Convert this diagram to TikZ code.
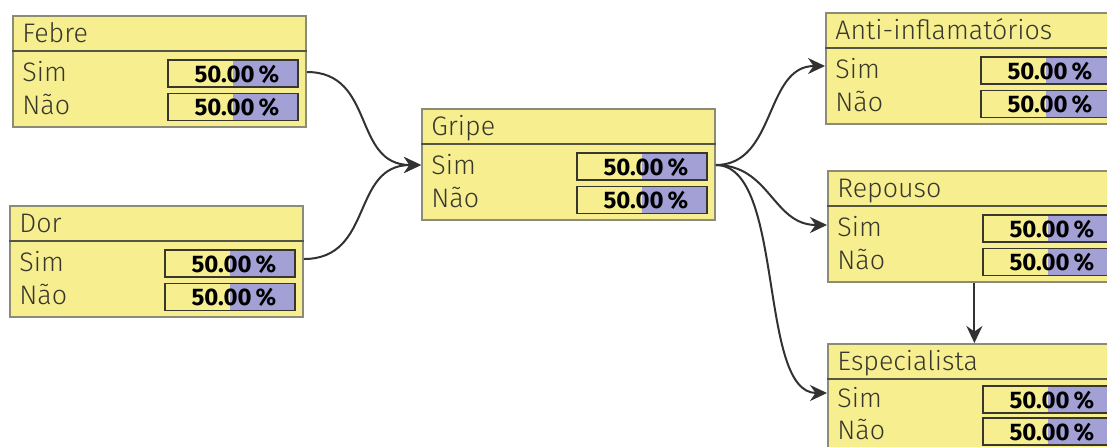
\documentclass[tikz,border=0pt]{standalone}
\usepackage{fontspec}
\setmainfont{Fira Sans}[UprightFont=* Light, BoldFont=* Bold]
\usetikzlibrary{arrows.meta}
\definecolor{boxfill}{RGB}{247,239,143}
\definecolor{barfill}{RGB}{163,160,214}
\definecolor{boxline}{RGB}{140,140,118}
\definecolor{hdrcol}{RGB}{85,85,70}
\definecolor{barline}{RGB}{55,55,45}
\definecolor{txtcol}{RGB}{55,55,45}
\definecolor{arrcol}{RGB}{50,50,50}
\tikzset{
  bnbox/.style={draw=boxline, fill=boxfill, line width=0.9pt, anchor=north west,
    minimum width=146.5pt, minimum height=55.5pt, inner sep=0pt},
  hdrline/.style={draw=hdrcol, line width=0.9pt},
  ttl/.style={anchor=west, inner sep=0pt, text height=8.8pt, text depth=0pt,
    font=\fontsize{13.4}{15}\selectfont, text=txtcol},
  bar/.style={draw=barline, line width=0.8pt, fill=boxfill, anchor=north west,
    minimum width=65pt, minimum height=13.5pt, inner sep=0pt,
    path picture={\fill[barfill] (path picture bounding box.north) rectangle (path picture bounding box.south east);}},
  pct/.style={anchor=east, inner sep=0pt, text height=8.7pt, text depth=0pt,
    font=\fontsize{12}{14}\selectfont\bfseries, text=black},
  conn/.style={draw=arrcol, line width=1pt, -{Stealth[length=8.5pt,width=8pt]}},
}
% name, x, y, title, extra row shift (pt)
\newcommand\bnvar[5]{%
  \node[bnbox] (#1) at (#2,#3) {};
  \draw[hdrline] ([yshift=-18pt]#1.north west) -- ([yshift=-18pt]#1.north east);
  \node[ttl] (#1-t) at ([xshift=5pt,yshift=-9.25pt]#1.north west) {#4};
  \node[ttl] (#1-s) at ([xshift=5pt,yshift=-28.75pt+#5]#1.north west) {Sim};
  \node[ttl] (#1-n) at ([xshift=5pt,yshift=-45.5pt+2*#5]#1.north west) {Não};
  \node[bar] (#1-sb) at ([xshift=77.5pt,yshift=-22pt+#5]#1.north west) {};
  \node[bar] (#1-nb) at ([xshift=77.5pt,yshift=-38.75pt+2*#5]#1.north west) {};
  \node[pct] (#1-sp) at ([xshift=-9.5pt]#1-sb.east) {50.00\,\%};
  \node[pct] (#1-np) at ([xshift=-9.5pt]#1-nb.east) {50.00\,\%};
}
\begin{document}
\begin{tikzpicture}[x=0.5pt,y=-0.5pt]
\useasboundingbox (0,0) rectangle (1107,446);
\clip (0,0) rectangle (1107,446);
\fill[white] (0,0) rectangle (1107,446);
\bnvar{febre}{12}{15}{Febre}{0pt}
\bnvar{dor}{9}{205}{Dor}{0pt}
\bnvar{gripe}{421}{108}{Gripe}{0pt}
\bnvar{anti}{825}{12}{Anti-inflamatórios}{0pt}
\bnvar{repouso}{827}{170}{Repouso}{0pt}
\bnvar{esp}{827}{343}{Especialista}{0.8pt}
\coordinate (gout) at ([yshift=-28.5pt]gripe.north east);
\draw[conn] ([yshift=-28.5pt]febre.north east) to[out=0,in=180,looseness=1.2] ([yshift=-28.5pt]gripe.north west);
\draw[conn] ([yshift=-27pt]dor.north east) to[out=0,in=180,looseness=1.2] ([yshift=-28.5pt]gripe.north west);
\draw[conn] (gout) to[out=0,in=180,looseness=1.05] ([yshift=-27pt]anti.north west);
\draw[conn] (gout) to[out=0,in=180,looseness=1.1] ([yshift=-27.5pt]repouso.north west);
\draw[conn] (gout) to[out=0,in=180,looseness=0.7] ([yshift=-25pt]esp.north west);
\draw[conn] (repouso.south) -- (esp.north);
\end{tikzpicture}
\end{document}
